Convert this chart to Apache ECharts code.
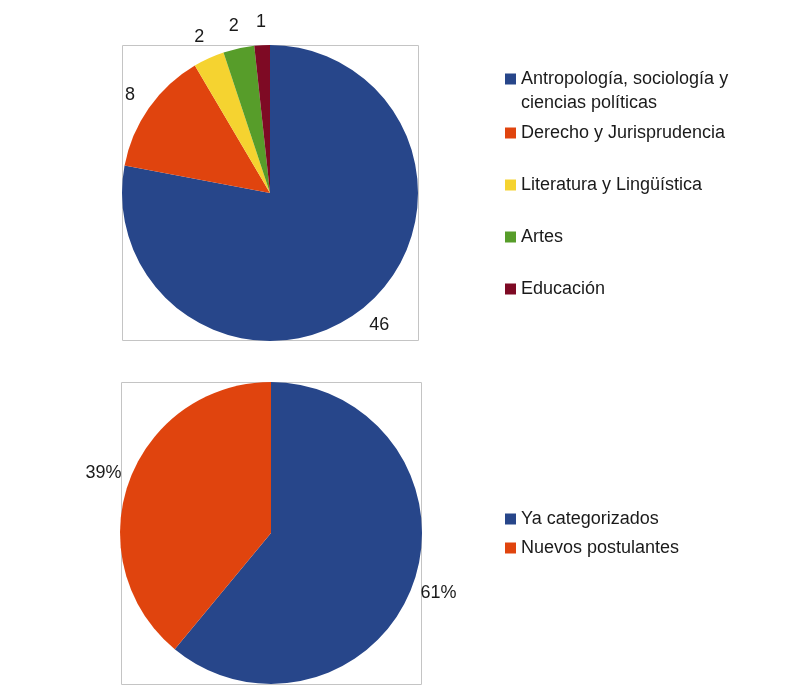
<!DOCTYPE html>
<html>
<head>
<meta charset="utf-8">
<script src="https://cdn.jsdelivr.net/npm/echarts@6/dist/echarts.min.js"></script>
<style>html,body{margin:0;padding:0;background:#fff;}#c{width:800px;height:697px;}</style>
</head>
<body>
<div id="c"></div>
<script>
const cats1 = ['Antropología, sociología y ciencias políticas', 'Derecho y Jurisprudencia', 'Literatura y Lingüística', 'Artes', 'Educación'];
const vals1 = [46, 8, 2, 2, 1];
const cats2 = ['Ya categorizados', 'Nuevos postulantes'];
const vals2 = [61, 39];

const colors1 = ['#27468a', '#e0440e', '#f5d330', '#579d2a', '#7e0a24'];
const colors2 = ['#27468a', '#e0440e'];
const FONT = 'Liberation Sans, Arial, sans-serif';
const TXT = '#1a1a1a';

const chart = echarts.init(document.getElementById('c'), null, {renderer: 'canvas'});

const d1 = cats1.map((n, i) => ({name: n, value: vals1[i]}));
const d2 = cats2.map((n, i) => ({name: n, value: vals2[i]}));

const legendTops1 = [43, 121, 173, 225, 277];
const legends = cats1.map((n, i) => ({
  data: [n],
  orient: 'vertical', left: 505, top: legendTops1[i], padding: 0,
  itemWidth: 11, itemHeight: 11, icon: 'rect', selectedMode: false,
  formatter: name => name === cats1[0] ? ' \nAntropología, sociología y\nciencias políticas' : name,
  textStyle: {fontFamily: FONT, fontSize: 18, color: TXT, lineHeight: 24}
}));
legends.push({
  data: cats2, orient: 'vertical', left: 505, top: 509, padding: 0, itemGap: 9,
  itemWidth: 11, itemHeight: 11, icon: 'rect', selectedMode: false,
  textStyle: {fontFamily: FONT, fontSize: 18, color: TXT, lineHeight: 20}
});

const hiddenPie = (center, radius, data, fmt) => ({
  type: 'pie', center, radius, data, silent: true, startAngle: 90,
  itemStyle: {color: 'rgba(0,0,0,0)'}, legendHoverLink: false,
  label: {show: true, position: 'inside', formatter: fmt, fontFamily: FONT, fontSize: 18, color: TXT},
  labelLine: {show: false}, emphasis: {disabled: true}
});

chart.setOption({
  animation: false,
  graphic: [
    {type: 'rect', shape: {x: 122.5, y: 45.5, width: 296, height: 295}, style: {fill: 'none', stroke: '#c4c4c4', lineWidth: 1}, z: -1},
    {type: 'rect', shape: {x: 121.5, y: 382.5, width: 300, height: 302}, style: {fill: 'none', stroke: '#c4c4c4', lineWidth: 1}, z: -1}
  ],
  legend: legends,
  series: [
    {type: 'pie', center: [270, 193], radius: [0, 148], data: d1, color: colors1, startAngle: 90,
     label: {show: false}, labelLine: {show: false}, emphasis: {disabled: true}},
    hiddenPie([270, 193], [150, 186], d1, '{c}'),
    {type: 'pie', center: [271, 533], radius: [0, 151], data: d2, color: colors2, startAngle: 90,
     label: {show: false}, labelLine: {show: false}, emphasis: {disabled: true}},
    hiddenPie([271, 533], [160, 190], d2, '{c}%')
  ]
});
</script>
</body>
</html>
